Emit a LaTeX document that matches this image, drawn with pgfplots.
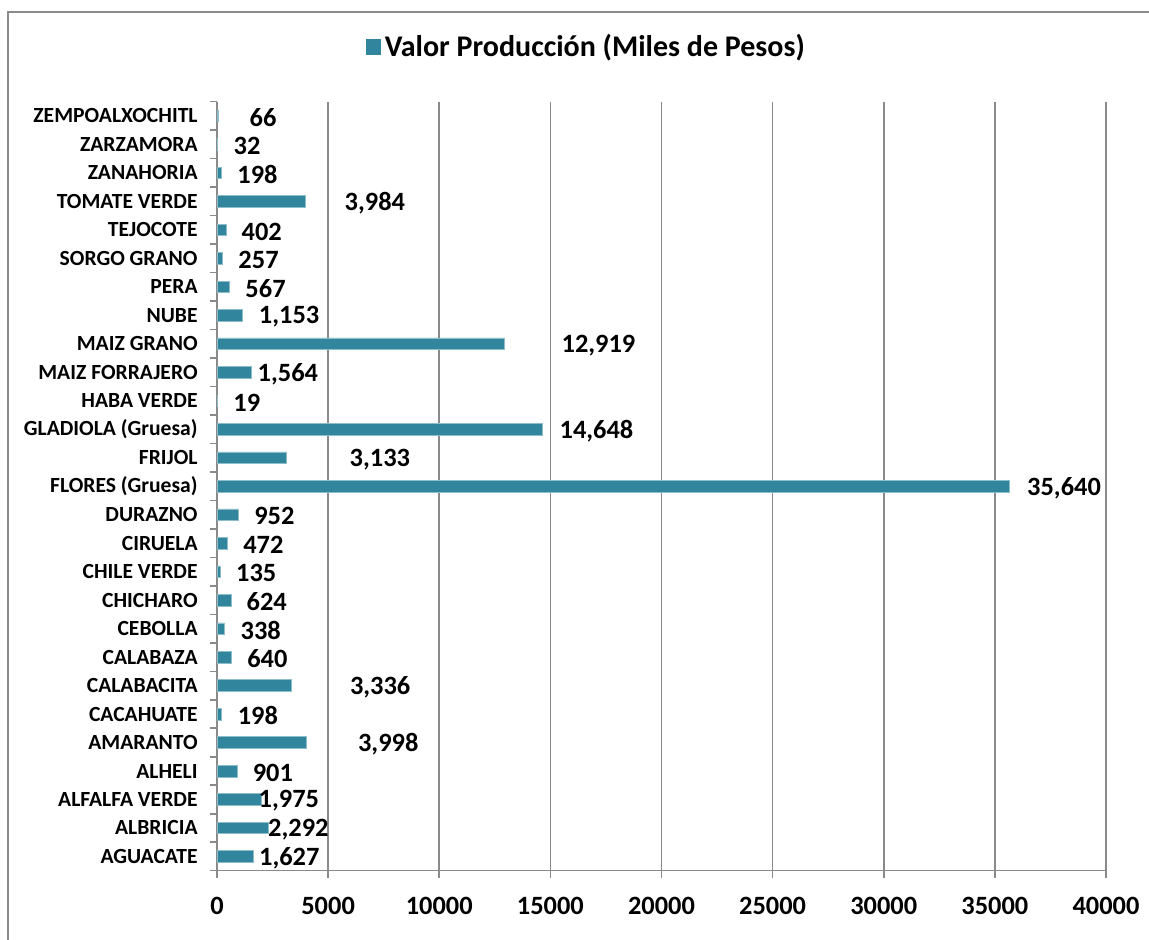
\documentclass[border=0pt]{standalone}
\usepackage{fontspec}
\setmainfont{Carlito}
\usepackage{pgfplots}
\pgfplotsset{compat=1.18}
\definecolor{barc}{HTML}{31859C}
\definecolor{gridc}{HTML}{8A8A8A}

\pgfplotstableread{
x y
1627 0
2292 1
1975 2
901 3
3998 4
198 5
3336 6
640 7
338 8
624 9
135 10
472 11
952 12
35640 13
3133 14
14648 15
19 16
1564 17
12919 18
1153 19
567 20
257 21
402 22
3984 23
198 24
32 25
66 26
}\bardata

\pgfplotstableread{
x y label
3253 0 1,627
3663 1 2,292
3235 2 1,975
2514 3 901
7704 4 3,998
1838 5 198
7343 6 3,336
2266 7 640
1969 8 338
2239 9 624
1766 10 135
2086 11 472
2581 12 952
38112 13 35,640
7330 14 3,133
17074 15 14,648
1342 16 19
3190 17 1,564
17164 18 12,919
3244 19 1,153
2185 20 567
1870 21 257
2014 22 402
7104 23 3,984
1824 24 198
1351 25 32
2072 26 66
}\labeldata

\begin{document}
\begin{tikzpicture}[x=1pt,y=1pt]
\useasboundingbox (0,0) rectangle (574.5,470);
\draw[gridc, line width=0.8pt] (4,-5) -- (4,464) -- (580,464);
\begin{axis}[
  at={(108.5pt,34.65pt)}, anchor=south west,
  scale only axis, width=444.5pt, height=384.5pt,
  xmin=0, xmax=40000, ymin=-0.5, ymax=26.5,
  clip=false,
  axis x line*=bottom, axis y line*=left,
  axis line style={gridc, line width=0.8pt},
  xmajorgrids, major grid style={gridc, line width=0.8pt},
  tick align=outside,
  major tick length=3.5pt, minor tick length=3.5pt,
  xtick={0,5000,10000,15000,20000,25000,30000,35000,40000},
  xticklabels={0,5000,10000,15000,20000,25000,30000,35000,40000},
  xtick style={gridc, line width=0.8pt},
  xticklabel style={anchor=base, inner sep=0pt, yshift=-18.5pt,
    font=\fontsize{13.2}{15}\selectfont\bfseries},
  ytick={0,...,26},
  yticklabels={AGUACATE,ALBRICIA,ALFALFA VERDE,ALHELI,AMARANTO,CACAHUATE,CALABACITA,CALABAZA,CEBOLLA,CHICHARO,CHILE VERDE,CIRUELA,DURAZNO,FLORES (Gruesa),FRIJOL,GLADIOLA (Gruesa),HABA VERDE,MAIZ FORRAJERO,MAIZ GRANO,NUBE,PERA,SORGO GRANO,TEJOCOTE,TOMATE VERDE,ZANAHORIA,ZARZAMORA,ZEMPOALXOCHITL},
  major y tick style={draw=none},
  minor ytick={-0.5,0.5,...,26.5},
  minor y tick style={gridc, line width=0.8pt},
  yticklabel style={anchor=east, inner sep=0pt, xshift=-6pt,
    font=\fontsize{10.8}{12}\selectfont\bfseries},
  legend style={at={(0.4168,1.071)}, anchor=center, draw=none, fill=none,
    font=\fontsize{15}{17}\selectfont\bfseries, inner sep=0pt},
]
\addplot[xbar, bar width=5.8pt, fill=barc, draw=barc!55!white, line width=0.3pt,
  legend image code/.code={\fill[barc] (0pt,-3.8pt) rectangle (7pt,3.8pt);}]
  table[x=x, y=y] {\bardata};
\addlegendentry{Valor Producción (Miles de Pesos)}
\addplot[forget plot, draw=none, mark=none,
  point meta=explicit symbolic,
  nodes near coords={\pgfplotspointmeta},
  nodes near coords style={anchor=center, text=black, inner sep=0pt, yshift=-0.8pt,
    font=\fontsize{13.2}{15}\selectfont\bfseries}]
  table[x=x, y=y, meta=label] {\labeldata};
\end{axis}
\end{tikzpicture}
\end{document}
